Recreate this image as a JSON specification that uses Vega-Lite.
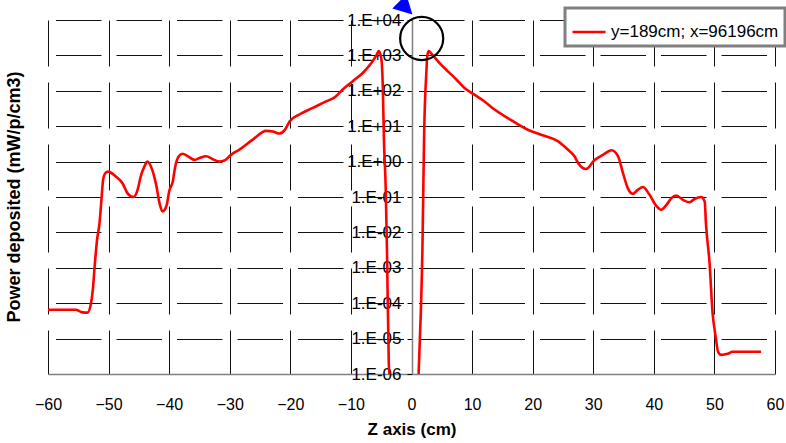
{
  "$schema": "https://vega.github.io/schema/vega-lite/v6.json",
  "width": 727,
  "height": 354,
  "autosize": "none",
  "padding": {"left": 48, "top": 20, "right": 11, "bottom": 69},
  "background": "white",
  "config": {
    "view": {"stroke": null},
    "font": "Liberation Sans"
  },
  "title": {
    "text": "Power deposited (mW/p/cm3)",
    "orient": "left",
    "anchor": "middle",
    "font": "Liberation Sans",
    "fontSize": 18,
    "fontWeight": "bold",
    "color": "black",
    "offset": 10
  },
  "layer": [
    {
      "data": {
        "values": [
          {"z": -60, "p": 6.5e-5, "series": "y=189cm; x=96196cm"},
          {"z": -58, "p": 6.5e-5, "series": "y=189cm; x=96196cm"},
          {"z": -55.4, "p": 6.5e-5, "series": "y=189cm; x=96196cm"},
          {"z": -54.5, "p": 5.6e-5, "series": "y=189cm; x=96196cm"},
          {"z": -53.5, "p": 5.4e-5, "series": "y=189cm; x=96196cm"},
          {"z": -52.9, "p": 1.0e-4, "series": "y=189cm; x=96196cm"},
          {"z": -52.6, "p": 2.4e-4, "series": "y=189cm; x=96196cm"},
          {"z": -52.3, "p": 1.1e-3, "series": "y=189cm; x=96196cm"},
          {"z": -51.9, "p": 6.2e-3, "series": "y=189cm; x=96196cm"},
          {"z": -51.5, "p": 1.8e-2, "series": "y=189cm; x=96196cm"},
          {"z": -51.2, "p": 7.4e-2, "series": "y=189cm; x=96196cm"},
          {"z": -50.9, "p": 0.31, "series": "y=189cm; x=96196cm"},
          {"z": -50.5, "p": 0.48, "series": "y=189cm; x=96196cm"},
          {"z": -50.1, "p": 0.52, "series": "y=189cm; x=96196cm"},
          {"z": -48.8, "p": 0.38, "series": "y=189cm; x=96196cm"},
          {"z": -47.7, "p": 0.245, "series": "y=189cm; x=96196cm"},
          {"z": -46.9, "p": 0.129, "series": "y=189cm; x=96196cm"},
          {"z": -45.9, "p": 0.10, "series": "y=189cm; x=96196cm"},
          {"z": -45.2, "p": 0.162, "series": "y=189cm; x=96196cm"},
          {"z": -44.7, "p": 0.38, "series": "y=189cm; x=96196cm"},
          {"z": -44.1, "p": 0.72, "series": "y=189cm; x=96196cm"},
          {"z": -43.6, "p": 1.0, "series": "y=189cm; x=96196cm"},
          {"z": -42.7, "p": 0.52, "series": "y=189cm; x=96196cm"},
          {"z": -42.1, "p": 0.20, "series": "y=189cm; x=96196cm"},
          {"z": -41.6, "p": 0.068, "series": "y=189cm; x=96196cm"},
          {"z": -41.1, "p": 0.039, "series": "y=189cm; x=96196cm"},
          {"z": -40.4, "p": 0.060, "series": "y=189cm; x=96196cm"},
          {"z": -40.0, "p": 0.145, "series": "y=189cm; x=96196cm"},
          {"z": -39.4, "p": 0.275, "series": "y=189cm; x=96196cm"},
          {"z": -39.0, "p": 0.72, "series": "y=189cm; x=96196cm"},
          {"z": -38.4, "p": 1.41, "series": "y=189cm; x=96196cm"},
          {"z": -37.8, "p": 1.66, "series": "y=189cm; x=96196cm"},
          {"z": -36.9, "p": 1.41, "series": "y=189cm; x=96196cm"},
          {"z": -35.8, "p": 1.12, "series": "y=189cm; x=96196cm"},
          {"z": -35.0, "p": 1.26, "series": "y=189cm; x=96196cm"},
          {"z": -33.9, "p": 1.41, "series": "y=189cm; x=96196cm"},
          {"z": -32.8, "p": 1.17, "series": "y=189cm; x=96196cm"},
          {"z": -31.7, "p": 1.0, "series": "y=189cm; x=96196cm"},
          {"z": -30.9, "p": 1.07, "series": "y=189cm; x=96196cm"},
          {"z": -29.8, "p": 1.55, "series": "y=189cm; x=96196cm"},
          {"z": -28.4, "p": 2.19, "series": "y=189cm; x=96196cm"},
          {"z": -26.2, "p": 4.17, "series": "y=189cm; x=96196cm"},
          {"z": -24.0, "p": 7.4, "series": "y=189cm; x=96196cm"},
          {"z": -22.9, "p": 7.1, "series": "y=189cm; x=96196cm"},
          {"z": -21.8, "p": 6.2, "series": "y=189cm; x=96196cm"},
          {"z": -20.9, "p": 7.9, "series": "y=189cm; x=96196cm"},
          {"z": -20.1, "p": 13.8, "series": "y=189cm; x=96196cm"},
          {"z": -18.5, "p": 21.4, "series": "y=189cm; x=96196cm"},
          {"z": -16.3, "p": 33, "series": "y=189cm; x=96196cm"},
          {"z": -14.1, "p": 50, "series": "y=189cm; x=96196cm"},
          {"z": -12.5, "p": 69, "series": "y=189cm; x=96196cm"},
          {"z": -11.4, "p": 107, "series": "y=189cm; x=96196cm"},
          {"z": -9.7, "p": 186, "series": "y=189cm; x=96196cm"},
          {"z": -8.0, "p": 324, "series": "y=189cm; x=96196cm"},
          {"z": -6.6, "p": 617, "series": "y=189cm; x=96196cm"},
          {"z": -5.8, "p": 1000, "series": "y=189cm; x=96196cm"},
          {"z": -5.4, "p": 1318, "series": "y=189cm; x=96196cm"},
          {"z": -5.0, "p": 851, "series": "y=189cm; x=96196cm"},
          {"z": -4.74, "p": 135, "series": "y=189cm; x=96196cm"},
          {"z": -4.55, "p": 4.17, "series": "y=189cm; x=96196cm"},
          {"z": -4.25, "p": 0.162, "series": "y=189cm; x=96196cm"},
          {"z": -4.05, "p": 3.24e-3, "series": "y=189cm; x=96196cm"},
          {"z": -3.75, "p": 2.04e-6, "series": "y=189cm; x=96196cm"},
          {"z": -3.6, "p": 8e-7, "series": "y=189cm; x=96196cm"},
          {"z": -3.0, "p": 1e-8, "series": "y=189cm; x=96196cm"},
          {"z": 0.6, "p": 1e-8, "series": "y=189cm; x=96196cm"},
          {"z": 1.15, "p": 8e-7, "series": "y=189cm; x=96196cm"},
          {"z": 1.54, "p": 5.6e-5, "series": "y=189cm; x=96196cm"},
          {"z": 1.8, "p": 3.24e-3, "series": "y=189cm; x=96196cm"},
          {"z": 1.95, "p": 0.162, "series": "y=189cm; x=96196cm"},
          {"z": 2.1, "p": 7.94, "series": "y=189cm; x=96196cm"},
          {"z": 2.25, "p": 63, "series": "y=189cm; x=96196cm"},
          {"z": 2.45, "p": 316, "series": "y=189cm; x=96196cm"},
          {"z": 2.6, "p": 955, "series": "y=189cm; x=96196cm"},
          {"z": 2.85, "p": 1318, "series": "y=189cm; x=96196cm"},
          {"z": 3.4, "p": 1072, "series": "y=189cm; x=96196cm"},
          {"z": 3.8, "p": 891, "series": "y=189cm; x=96196cm"},
          {"z": 4.6, "p": 617, "series": "y=189cm; x=96196cm"},
          {"z": 6.0, "p": 355, "series": "y=189cm; x=96196cm"},
          {"z": 7.4, "p": 209, "series": "y=189cm; x=96196cm"},
          {"z": 8.75, "p": 120, "series": "y=189cm; x=96196cm"},
          {"z": 10.4, "p": 77.6, "series": "y=189cm; x=96196cm"},
          {"z": 12.05, "p": 50.1, "series": "y=189cm; x=96196cm"},
          {"z": 13.7, "p": 29.5, "series": "y=189cm; x=96196cm"},
          {"z": 15.9, "p": 17.0, "series": "y=189cm; x=96196cm"},
          {"z": 19.2, "p": 7.94, "series": "y=189cm; x=96196cm"},
          {"z": 21.4, "p": 5.75, "series": "y=189cm; x=96196cm"},
          {"z": 24.2, "p": 3.72, "series": "y=189cm; x=96196cm"},
          {"z": 25.8, "p": 2.19, "series": "y=189cm; x=96196cm"},
          {"z": 26.9, "p": 1.41, "series": "y=189cm; x=96196cm"},
          {"z": 27.5, "p": 0.912, "series": "y=189cm; x=96196cm"},
          {"z": 28.8, "p": 0.617, "series": "y=189cm; x=96196cm"},
          {"z": 30.2, "p": 1.10, "series": "y=189cm; x=96196cm"},
          {"z": 31.6, "p": 1.55, "series": "y=189cm; x=96196cm"},
          {"z": 33.0, "p": 2.09, "series": "y=189cm; x=96196cm"},
          {"z": 34.1, "p": 1.41, "series": "y=189cm; x=96196cm"},
          {"z": 34.9, "p": 0.479, "series": "y=189cm; x=96196cm"},
          {"z": 35.7, "p": 0.178, "series": "y=189cm; x=96196cm"},
          {"z": 36.5, "p": 0.123, "series": "y=189cm; x=96196cm"},
          {"z": 37.4, "p": 0.162, "series": "y=189cm; x=96196cm"},
          {"z": 38.2, "p": 0.191, "series": "y=189cm; x=96196cm"},
          {"z": 39.3, "p": 0.115, "series": "y=189cm; x=96196cm"},
          {"z": 40.4, "p": 0.0562, "series": "y=189cm; x=96196cm"},
          {"z": 41.2, "p": 0.0437, "series": "y=189cm; x=96196cm"},
          {"z": 42.1, "p": 0.0603, "series": "y=189cm; x=96196cm"},
          {"z": 42.9, "p": 0.0933, "series": "y=189cm; x=96196cm"},
          {"z": 43.7, "p": 0.110, "series": "y=189cm; x=96196cm"},
          {"z": 44.8, "p": 0.0832, "series": "y=189cm; x=96196cm"},
          {"z": 45.9, "p": 0.0708, "series": "y=189cm; x=96196cm"},
          {"z": 46.7, "p": 0.0871, "series": "y=189cm; x=96196cm"},
          {"z": 47.8, "p": 0.1, "series": "y=189cm; x=96196cm"},
          {"z": 48.4, "p": 0.0741, "series": "y=189cm; x=96196cm"},
          {"z": 48.6, "p": 0.0182, "series": "y=189cm; x=96196cm"},
          {"z": 49.2, "p": 1.35e-3, "series": "y=189cm; x=96196cm"},
          {"z": 49.7, "p": 5.25e-5, "series": "y=189cm; x=96196cm"},
          {"z": 50.2, "p": 1.15e-5, "series": "y=189cm; x=96196cm"},
          {"z": 50.6, "p": 4.27e-6, "series": "y=189cm; x=96196cm"},
          {"z": 51.1, "p": 3.47e-6, "series": "y=189cm; x=96196cm"},
          {"z": 52.2, "p": 3.72e-6, "series": "y=189cm; x=96196cm"},
          {"z": 53.0, "p": 4.27e-6, "series": "y=189cm; x=96196cm"},
          {"z": 57.7, "p": 4.27e-6, "series": "y=189cm; x=96196cm"}
        ]
      },
      "mark": {"type": "line", "clip": true, "strokeWidth": 2.6, "interpolate": "monotone"},
      "encoding": {
        "x": {
          "field": "z",
          "type": "quantitative",
          "scale": {"domain": [-60, 60], "nice": false, "zero": false},
          "axis": {
            "title": "Z axis (cm)",
            "titleFont": "Liberation Sans",
            "titleFontSize": 17,
            "titleFontWeight": "bold",
            "titleColor": "black",
            "titlePadding": 9,
            "values": [-60, -50, -40, -30, -20, -10, 0, 10, 20, 30, 40, 50, 60],
            "labelFont": "Liberation Sans",
            "labelFontSize": 16,
            "labelColor": "black",
            "labelPadding": 22,
            "labelFlush": false,
            "labelOverlap": false,
            "ticks": false,
            "domain": true,
            "domainColor": "#808080",
            "domainWidth": 1.5,
            "grid": true,
            "gridColor": "#111111",
            "gridWidth": 1,
            "gridDash": [46, 16],
            "gridOpacity": 1
          }
        },
        "y": {
          "field": "p",
          "type": "quantitative",
          "scale": {"type": "log", "domain": [1e-6, 10000], "nice": false},
          "axis": {
            "title": null,
            "orient": "left",
            "offset": -364,
            "values": [1e-6, 1e-5, 1e-4, 1e-3, 1e-2, 1e-1, 1, 10, 100, 1000, 10000],
            "labelExpr": "'1.E' + (round(log(datum.value) / LN10) < 0 ? '-' : '+') + (abs(round(log(datum.value) / LN10)) < 10 ? '0' : '') + abs(round(log(datum.value) / LN10))",
            "labelFont": "Liberation Sans",
            "labelFontSize": 17,
            "labelColor": "black",
            "labelPadding": 6,
            "labelFlush": false,
            "labelOverlap": false,
            "ticks": true,
            "tickSize": 5,
            "tickColor": "black",
            "domain": true,
            "domainColor": "#808080",
            "domainWidth": 1.5,
            "grid": true,
            "gridColor": "#111111",
            "gridWidth": 1,
            "gridDash": [45.5, 15],
            "gridDashOffset": 53,
            "gridOpacity": 1
          }
        },
        "color": {
          "field": "series",
          "type": "nominal",
          "scale": {"range": ["#ff0000"]},
          "legend": {
            "title": null,
            "orient": "none",
            "legendX": 517,
            "legendY": -12,
            "symbolType": "stroke",
            "symbolSize": 1089,
            "symbolStrokeWidth": 2.6,
            "labelFont": "Liberation Sans",
            "labelFontSize": 17,
            "labelColor": "black",
            "labelLimit": 400,
            "labelOffset": 4,
            "padding": 6,
            "fillColor": "white",
            "strokeColor": "#808080",
            "encode": {"legend": {"update": {"strokeWidth": {"value": 3}}}}
          }
        }
      }
    },
    {
      "data": {"values": [{"z": 1.68, "p": 3000}]},
      "mark": {"type": "point", "filled": false, "shape": "circle", "size": 1855, "stroke": "black", "strokeWidth": 2.2, "opacity": 1},
      "encoding": {
        "x": {"field": "z", "type": "quantitative"},
        "y": {"field": "p", "type": "quantitative"}
      }
    },
    {
      "data": {"values": [{"z": -1.16, "p": 24000}]},
      "mark": {"type": "point", "filled": true, "shape": "M-0.75,-0.55L0.75,-0.55L0,0.85Z", "angle": -45, "size": 700, "color": "#0000ff", "opacity": 1},
      "encoding": {
        "x": {"field": "z", "type": "quantitative"},
        "y": {"field": "p", "type": "quantitative"}
      }
    }
  ]
}
